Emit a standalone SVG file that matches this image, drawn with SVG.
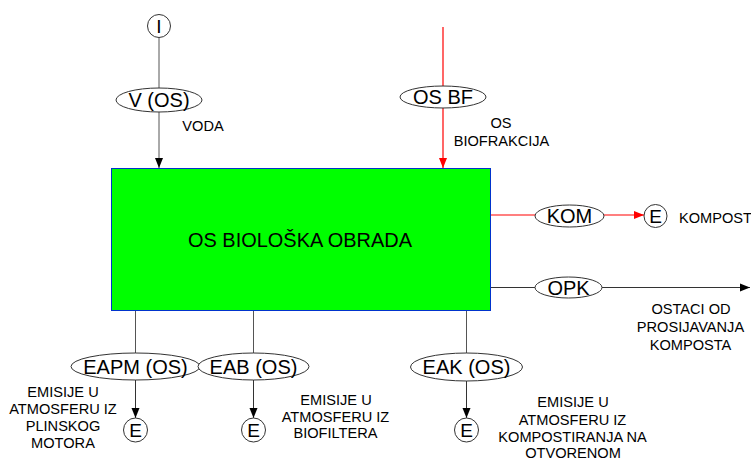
<svg xmlns="http://www.w3.org/2000/svg" width="751" height="462" viewBox="0 0 751 462">
<style>
text{font-family:"Liberation Sans",Arial,sans-serif;fill:#000}
.lbl{font-size:14.6px;text-anchor:middle}
.nl{font-size:20px;text-anchor:middle}
.ce{font-size:19px;text-anchor:middle}
.ell{fill:#fff;stroke:#333;stroke-width:1}
.cir{fill:#fff;stroke:#333;stroke-width:1}
.ln{fill:none;stroke:#555;stroke-width:1}
.dk{stroke:#333}
.rl{fill:none;stroke:#ff0000;stroke-width:1.2}
</style>
<defs>
<marker id="ab" viewBox="0 0 10 10" refX="10" refY="5" markerWidth="10" markerHeight="10" markerUnits="userSpaceOnUse" orient="auto"><path d="M0,1 L10,5 L0,9 z" fill="#000"/></marker>
<marker id="ar" viewBox="0 0 10 10" refX="10" refY="5" markerWidth="10" markerHeight="10" markerUnits="userSpaceOnUse" orient="auto"><path d="M0,1 L10,5 L0,9 z" fill="#f00"/></marker>
</defs>
<g id="connectors">
<line class="ln" x1="159" y1="37.5" x2="159" y2="88"/>
<line class="ln" x1="159" y1="112" x2="159" y2="168" marker-end="url(#ab)"/>
<line class="rl" x1="443" y1="27" x2="443" y2="86"/>
<line class="rl" x1="443" y1="108" x2="443" y2="168" marker-end="url(#ar)"/>
<line class="rl" x1="491" y1="215" x2="535" y2="215"/>
<line class="rl" x1="604" y1="215" x2="644" y2="215" marker-end="url(#ar)"/>
<line class="ln dk" x1="491" y1="287.5" x2="535" y2="287.5"/>
<line class="ln dk" x1="602" y1="287.5" x2="750" y2="287.5" marker-end="url(#ab)"/>
<line class="ln" x1="135.5" y1="311" x2="135.5" y2="353"/>
<line class="ln dk" x1="135.5" y1="380" x2="135.5" y2="418" marker-end="url(#ab)"/>
<line class="ln" x1="253.5" y1="311" x2="253.5" y2="353"/>
<line class="ln dk" x1="253.5" y1="380" x2="253.5" y2="418" marker-end="url(#ab)"/>
<line class="ln" x1="466.5" y1="311" x2="466.5" y2="353"/>
<line class="ln dk" x1="466.5" y1="381" x2="466.5" y2="418" marker-end="url(#ab)"/>
</g>
<g id="main">
<rect x="111.5" y="168.5" width="379" height="142" fill="#00ff00" stroke="#0033cc" stroke-width="1"/>
<text x="300" y="246.7" style="font-size:19.5px;text-anchor:middle" textLength="224" lengthAdjust="spacingAndGlyphs">OS BIOLOŠKA OBRADA</text>
</g>
<g id="in-I">
<circle class="cir" cx="159" cy="26" r="11.5"/>
<text class="ce" x="159" y="33">I</text>
</g>
<g id="v-os">
<ellipse class="ell" cx="159" cy="100" rx="43" ry="12"/>
<text class="nl" x="159" y="107">V (OS)</text>
<text class="lbl" x="203" y="131">VODA</text>
</g>
<g id="os-bf">
<ellipse class="ell" cx="443" cy="97" rx="43" ry="11"/>
<text class="nl" x="443" y="104">OS BF</text>
<text class="lbl" x="501" y="128">OS</text>
<text class="lbl" x="501.5" y="146">BIOFRAKCIJA</text>
</g>
<g id="kom">
<ellipse class="ell" cx="569.5" cy="216" rx="34.5" ry="11"/>
<text class="nl" x="569.5" y="223">KOM</text>
</g>
<g id="e-kom">
<circle class="cir" cx="655.5" cy="216" r="11.5"/>
<text class="ce" x="655.5" y="223">E</text>
<text x="679" y="223" style="font-size:14.6px">KOMPOST</text>
</g>
<g id="opk">
<ellipse class="ell" cx="568.5" cy="287.5" rx="33.5" ry="10.5"/>
<text class="nl" x="568.5" y="294.5">OPK</text>
<text class="lbl" x="691" y="314.3">OSTACI OD</text>
<text class="lbl" x="690.5" y="331.7">PROSIJAVANJA</text>
<text class="lbl" x="690.5" y="349.5">KOMPOSTA</text>
</g>
<g id="eapm">
<ellipse class="ell" cx="135.5" cy="366.5" rx="64.5" ry="13.5"/>
<text class="nl" x="135.5" y="373.5">EAPM (OS)</text>
</g>
<g id="e-eapm">
<circle class="cir" cx="135.5" cy="430" r="12"/>
<text class="ce" x="135.5" y="437">E</text>
<text class="lbl" x="63" y="396.5">EMISIJE U</text>
<text class="lbl" x="63" y="413.5">ATMOSFERU IZ</text>
<text class="lbl" x="63" y="431">PLINSKOG</text>
<text class="lbl" x="63" y="448">MOTORA</text>
</g>
<g id="eab">
<ellipse class="ell" cx="253.5" cy="366.5" rx="55.5" ry="13.5"/>
<text class="nl" x="253.5" y="373.5">EAB (OS)</text>
</g>
<g id="e-eab">
<circle class="cir" cx="253.5" cy="430" r="12"/>
<text class="ce" x="253.5" y="437">E</text>
<text class="lbl" x="336" y="405">EMISIJE U</text>
<text class="lbl" x="335.5" y="421.7">ATMOSFERU IZ</text>
<text class="lbl" x="335.5" y="438.3">BIOFILTERA</text>
</g>
<g id="eak">
<ellipse class="ell" cx="466.5" cy="367" rx="56" ry="14"/>
<text class="nl" x="466.5" y="374">EAK (OS)</text>
</g>
<g id="e-eak">
<circle class="cir" cx="466.5" cy="430" r="12"/>
<text class="ce" x="466.5" y="437">E</text>
<text class="lbl" x="573" y="407.3">EMISIJE U</text>
<text class="lbl" x="572.5" y="425">ATMOSFERU IZ</text>
<text class="lbl" x="572.5" y="441.7">KOMPOSTIRANJA NA</text>
<text class="lbl" x="573" y="458.3">OTVORENOM</text>
</g>
</svg>
